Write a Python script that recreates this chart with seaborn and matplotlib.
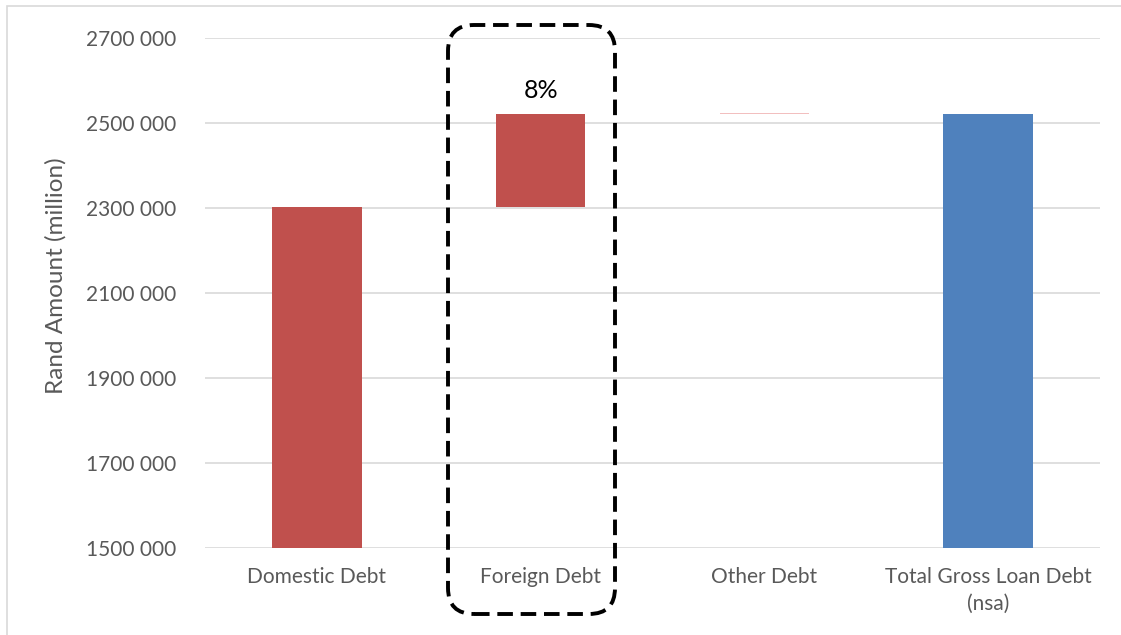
import matplotlib
matplotlib.use("Agg")
import matplotlib.pyplot as plt
from matplotlib.patches import FancyBboxPatch, Rectangle
from matplotlib.transforms import IdentityTransform
from matplotlib.ticker import FuncFormatter
import seaborn as sns

# ---- data ----
categories = ["Domestic Debt", "Foreign Debt", "Other Debt", "Total Gross Loan Debt\n(nsa)"]
bases = [0, 2302000, 2520500, 0]
values = [2302000, 218500, 1200, 2520500]
colors = ["#C0504D", "#C0504D", "#F2BFBF", "#4F81BD"]
label_text = "8%"
y_ticks = [1500000, 1700000, 1900000, 2100000, 2300000, 2500000, 2700000]

sns.set_theme(style="white")
plt.rcParams["font.family"] = ["Lato", "DejaVu Sans"]

fig = plt.figure(figsize=(11.21, 6.35), dpi=100)
ax = fig.add_axes([0.1829, 0.1375, 0.9813 - 0.1829, 0.9406 - 0.1375])

for cat, base, val, col in zip(categories, bases, values, colors):
    sns.barplot(x=[cat], y=[val], order=categories, bottom=base, color=col,
                width=0.4, saturation=1, ax=ax, zorder=3, linewidth=0)

ax.set_ylim(y_ticks[0], y_ticks[-1])
ax.set_xlim(-0.5, 3.5)
ax.set_yticks(y_ticks)
ax.yaxis.set_major_formatter(FuncFormatter(lambda v, p: f"{int(v) // 1000} {int(v) % 1000:03d}"))
ax.grid(axis="y", color="#D9D9D9", linewidth=1.2, zorder=0)
ax.grid(axis="x", visible=False)
for s in ax.spines.values():
    s.set_visible(False)
ax.tick_params(axis="both", length=0, colors="#595959", labelsize=15)
ax.tick_params(axis="y", pad=21)
ax.tick_params(axis="x", pad=14)
for lbl in ax.get_xticklabels():
    lbl.set_linespacing(1.45)
ax.set_xlabel("")
ax.set_ylabel("Rand Amount (million)", color="#595959", fontsize=17.5)
ax.yaxis.set_label_coords(-0.155, 0.533)

# percentage label on foreign debt
top = bases[1] + values[1]
ax.annotate(label_text, xy=(1, top), xytext=(0, 11.5), textcoords="offset points",
            ha="center", va="baseline", fontsize=18, color="black")

# dashed highlight box (pixel coordinates)
box = FancyBboxPatch((448, 635 - 614), 167, 589, boxstyle="round,pad=0,rounding_size=26",
                     transform=IdentityTransform(), fill=False, edgecolor="black",
                     linewidth=2.8, linestyle=(0, (4, 2)), clip_on=False, zorder=5)
fig.patches.append(box)

# chart border
border = Rectangle((7, -20), 1140, 635 - 6 + 20, transform=IdentityTransform(),
                   fill=False, edgecolor="#D9D9D9", linewidth=1.2, clip_on=False)
fig.patches.append(border)

fig.savefig("out.png", dpi=100)
